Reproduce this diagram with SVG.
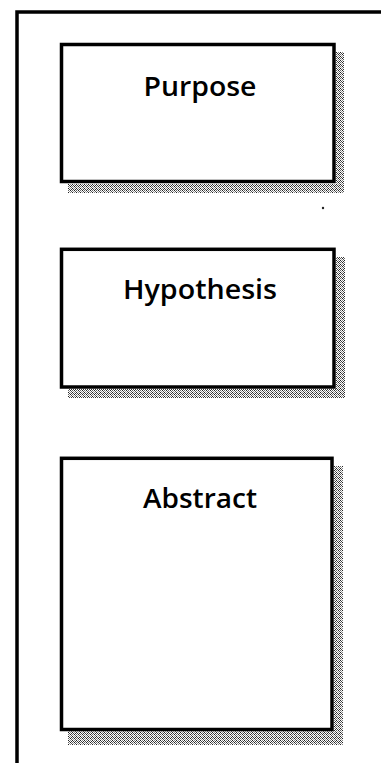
<svg xmlns="http://www.w3.org/2000/svg" width="381" height="763" viewBox="0 0 381 763">
  <defs>
    <pattern id="dither" x="0" y="0" width="4" height="4" patternUnits="userSpaceOnUse">
      <rect width="4" height="4" fill="#ffffff"/>
      <rect x="0" y="0" width="1" height="1" fill="#222"/>
      <rect x="2" y="0" width="1" height="1" fill="#888"/>
      <rect x="1" y="1" width="1" height="1" fill="#444"/>
      <rect x="3" y="1" width="1" height="1" fill="#333"/>
      <rect x="0" y="2" width="1" height="1" fill="#666"/>
      <rect x="2" y="2" width="1" height="1" fill="#222"/>
      <rect x="1" y="3" width="1" height="1" fill="#999"/>
      <rect x="3" y="3" width="1" height="1" fill="#555"/>
    </pattern>
    <style>
      .frame { fill: none; stroke: #000; stroke-width: 3.5; }
      .box { fill: #fff; stroke: #000; stroke-width: 3.5; }
      .shadow { fill: url(#dither); stroke: none; }
      .label { font-family: "Open Sans", "Noto Sans", "DejaVu Sans", sans-serif; font-size: 27px; font-weight: 600; fill: #000; text-anchor: middle; }
    </style>
  </defs>

  <rect width="381" height="763" fill="#fff"/>

  <g id="frame">
    <path class="frame" d="M17 763 V12 H381"/>
    <circle cx="323" cy="208" r="1.2" fill="#222"/>
  </g>

  <g id="purpose">
    <path class="shadow" d="M336 52 H344 V193 H68 V184 H336 Z"/>
    <rect class="box" x="61.5" y="44.5" width="272.5" height="137"/>
    <text class="label" x="200" y="96" textLength="113" lengthAdjust="spacingAndGlyphs">Purpose</text>
  </g>

  <g id="hypothesis">
    <path class="shadow" d="M336 257 H345 V398 H68 V389 H336 Z"/>
    <rect class="box" x="61.5" y="249.3" width="272.5" height="137.7"/>
    <text class="label" x="200" y="299" textLength="154" lengthAdjust="spacingAndGlyphs">Hypothesis</text>
  </g>

  <g id="abstract">
    <path class="shadow" d="M334 466 H343 V745 H68 V731 H334 Z"/>
    <rect class="box" x="61.5" y="458.3" width="270.5" height="271.2"/>
    <text class="label" x="200" y="508" textLength="114" lengthAdjust="spacingAndGlyphs">Abstract</text>
  </g>

  <g id="connectors"/>
</svg>
